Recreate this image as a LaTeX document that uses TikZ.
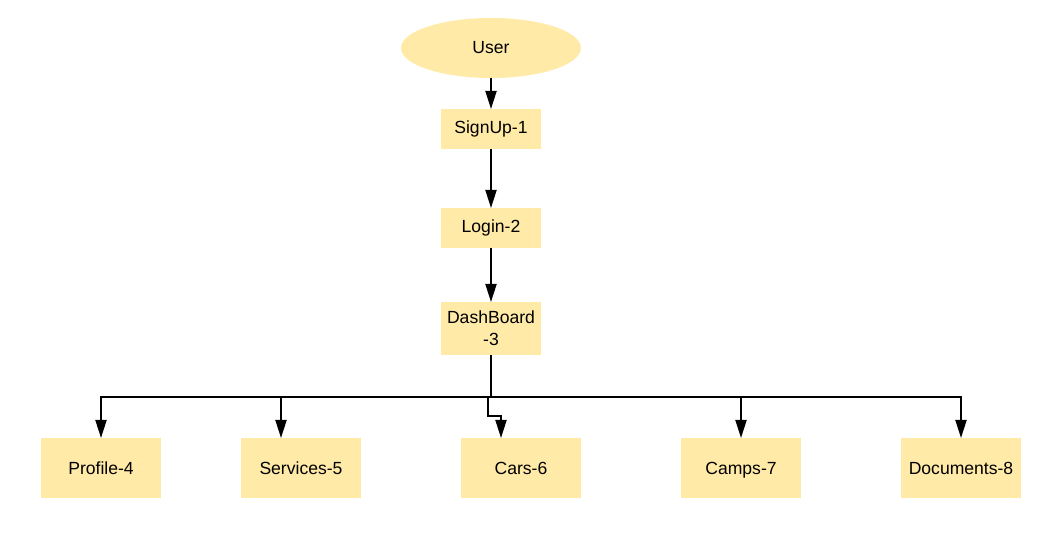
\documentclass[tikz,border=0pt]{standalone}
\usepackage{fontspec}
\setmainfont{Liberation Sans}
\usepackage{xcolor}
\usetikzlibrary{
  positioning,
  shapes.geometric,
  arrows.meta
}
\definecolor{noteyellow}{HTML}{FFEAA7}

\begin{document}
\begin{tikzpicture}[node distance=1.18cm and 2cm, every node/.style={font=\fontsize{10}{12.5}\selectfont},
  actor/.style={ellipse, fill=noteyellow, minimum width=3.6cm, minimum height=1.2cm, inner sep=0pt, outer sep=0pt},
  screen/.style={fill=noteyellow, minimum width=2cm, minimum height=0.8cm, text width=1.9cm, align=center, inner sep=0pt, outer sep=0pt},
  module/.style={fill=noteyellow, minimum width=2.4cm, minimum height=1.2cm, text height=1.6ex, text depth=0.3ex, align=center, inner sep=0pt, outer sep=0pt},
  arrow/.style={line width=1.1pt, -{Triangle[length=0.36cm, width=0.22cm]}},
  link/.style={line width=1.1pt}
]
\useasboundingbox (0,0) rectangle (21.22,-10.78);

% Main flow
\node[actor] (user) at (9.82,-0.96) {User};
\node[screen, below=0.62cm of user] (signup) {SignUp-1};
\node[screen, below=of signup] (login) {Login-2};
\node[screen, below=1.08cm of login, minimum height=1.06cm] (dash) {DashBoard\\-3};

% Modules
\node[module, below=1.66cm of dash, xshift=0.6cm] (cars) {Cars-6};
\node[module, left=of cars] (services) {Services-5};
\node[module, left=1.6cm of services] (profile) {Profile-4};
\node[module, right=of cars] (camps) {Camps-7};
\node[module, right=of camps] (docs) {Documents-8};
\coordinate (bus) at ([yshift=-0.84cm]dash.south);

% Arrows
\draw[arrow] (user) -- (signup);
\draw[arrow] (signup) -- (login);
\draw[arrow] (login) -- (dash);
\draw[link] (dash.south) -- (bus);
\draw[arrow] (bus) -| (profile.north);
\draw[arrow] (bus) -| ([xshift=-0.4cm]services.north);
\draw[arrow] ([xshift=-0.06cm]bus) -- ++(0,-0.38) -| ([xshift=-0.4cm]cars.north);
\draw[arrow] (bus) -| (camps.north);
\draw[arrow] (bus) -| (docs.north);

\end{tikzpicture}
\end{document}
